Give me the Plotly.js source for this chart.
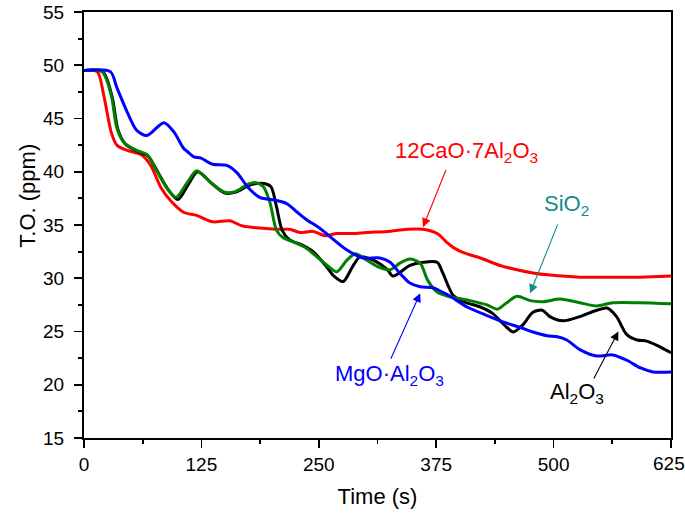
<!DOCTYPE html>
<html>
<head>
<meta charset="utf-8">
<script src="https://cdn.plot.ly/plotly-3.0.1.min.js"></script>
<style>html,body{margin:0;padding:0;background:#fff;}#chart{width:685px;height:514px;}</style>
</head>
<body>
<div id="chart"></div>
<script>
// Time (s) and T.O. (ppm) values
const caX = [0, 14, 21, 29, 35, 46, 61, 71, 82, 93, 106, 120, 137, 155, 169, 191, 209, 219, 230, 244, 257, 269, 286, 301, 323, 344, 361, 376, 386, 393, 404, 422, 443, 461, 478, 496, 528, 560, 592, 625];
const caY = [49.5, 49.4, 47.2, 43.7, 42.5, 42.0, 41.6, 40.6, 38.5, 37.2, 36.2, 35.9, 35.3, 35.4, 34.9, 34.7, 34.6, 34.6, 34.3, 34.4, 34.0, 34.2, 34.2, 34.3, 34.4, 34.6, 34.6, 34.2, 33.4, 32.9, 32.4, 31.9, 31.2, 30.8, 30.5, 30.3, 30.1, 30.1, 30.1, 30.2];

const siX = [0, 19, 29, 35, 43, 56, 67, 78, 88, 98, 110, 120, 135, 149, 160, 174, 182, 191, 198, 205, 212, 223, 237, 248, 259, 269, 280, 289, 301, 315, 326, 336, 347, 358, 366, 376, 388, 393, 411, 429, 440, 450, 461, 475, 489, 507, 528, 546, 563, 592, 625];
const siY = [49.5, 49.4, 47.2, 44.1, 42.7, 42.0, 41.6, 40.0, 38.5, 37.6, 39.0, 40.1, 39.0, 38.1, 38.1, 38.8, 39.0, 38.6, 37.1, 34.5, 33.8, 33.4, 32.8, 32.0, 31.2, 30.6, 31.7, 32.3, 31.7, 31.0, 30.8, 31.4, 31.8, 31.4, 29.8, 28.7, 28.3, 28.2, 27.9, 27.5, 27.1, 27.7, 28.3, 27.9, 27.8, 28.05, 27.7, 27.4, 27.7, 27.7, 27.6];

const alX = [0, 20, 30, 36, 44, 57, 68, 79, 89, 100, 111, 121, 136, 150, 162, 175, 184, 192, 199, 205, 211, 219, 233, 244, 259, 265, 276, 286, 294, 308, 323, 329, 347, 361, 376, 382, 393, 404, 422, 435, 450, 457, 467, 478, 488, 496, 510, 528, 546, 557, 567, 578, 589, 599, 610, 625];
const alY = [49.5, 49.4, 47.0, 44.0, 42.6, 41.9, 41.5, 39.9, 38.4, 37.4, 38.8, 40.0, 38.9, 38.0, 38.1, 38.7, 38.9, 38.9, 38.6, 36.7, 34.5, 33.6, 33.1, 32.5, 31.0, 30.3, 29.7, 31.1, 32.0, 31.7, 30.8, 30.2, 31.2, 31.5, 31.5, 30.5, 28.4, 27.8, 27.3, 26.7, 25.4, 24.95, 25.6, 26.8, 27.0, 26.4, 26.0, 26.4, 27.0, 27.2, 26.4, 24.7, 24.2, 24.1, 23.7, 23.0];

const mgX = [0, 28, 35, 46, 56, 67, 85, 96, 106, 110, 117, 124, 137, 152, 163, 174, 187, 205, 216, 227, 237, 251, 260, 280, 297, 315, 326, 336, 347, 358, 372, 388, 408, 429, 446, 464, 478, 493, 504, 514, 528, 546, 563, 578, 592, 606, 625];
const mgY = [49.5, 49.4, 47.9, 45.6, 43.9, 43.4, 44.6, 43.7, 42.2, 41.9, 41.4, 41.3, 40.7, 40.6, 39.9, 38.6, 37.6, 37.3, 37.0, 36.2, 35.5, 34.7, 34.05, 32.65, 31.9, 31.9, 31.5, 30.5, 29.55, 29.2, 29.1, 28.4, 27.3, 26.5, 25.9, 25.4, 24.95, 24.6, 24.5, 24.2, 23.3, 22.7, 22.8, 22.3, 21.6, 21.2, 21.2];

const xTicks = [0, 125, 250, 375, 500, 625];
const yTicks = [15, 20, 25, 30, 35, 40, 45, 50, 55];

const FONT = 'Liberation Sans, Arial, sans-serif';
function line(x, y, color, name) {
  return {x: x, y: y, type: 'scatter', mode: 'lines', name: name,
    line: {color: color, width: 3, shape: 'spline', smoothing: 0.8}, hoverinfo: 'skip'};
}
const data = [
  line(caX, caY, '#ff0000', '12CaO·7Al2O3'),
  line(alX, alY, '#000000', 'Al2O3'),
  line(siX, siY, '#007f00', 'SiO2'),
  line(mgX, mgY, '#0000ff', 'MgO·Al2O3')
];

function arrow(x, y, ax, ay, color) {
  return {x: x, y: y, ax: ax, ay: ay, xref: 'x', yref: 'y', axref: 'x', ayref: 'y',
    text: '', showarrow: true, arrowhead: 2, arrowsize: 1.6, arrowwidth: 1.1, arrowcolor: color, standoff: 0};
}
function label(x, y, text, color) {
  return {x: x, y: y, xref: 'x', yref: 'y', text: text, showarrow: false,
    font: {family: FONT, size: 22, color: color}};
}

// the last x tick label sits at the page edge; draw it as a right-anchored text so it is not cut
const lastX = xTicks[xTicks.length - 1];
const xTickText = xTicks.map((v, i) => i === xTicks.length - 1 ? '' : String(v));

const layout = {
  width: 685, height: 514,
  margin: {l: 84, r: 14, t: 12, b: 76},
  paper_bgcolor: '#fff', plot_bgcolor: '#fff',
  showlegend: false,
  font: {family: FONT, color: '#000'},
  xaxis: {
    range: [0, 625], tickvals: xTicks, ticktext: xTickText,
    ticks: 'outside', ticklen: 8, tickwidth: 1.8, tickcolor: '#000',
    minor: {tickvals: [62.5, 187.5, 312.5, 437.5, 562.5], ticks: 'outside', ticklen: 4, tickwidth: 1.8, tickcolor: '#000'},
    showline: true, linewidth: 2, linecolor: '#000', mirror: true,
    showgrid: false, zeroline: false,
    tickfont: {family: FONT, size: 19, color: '#000'},
    title: {text: 'Time (s)', font: {family: FONT, size: 22, color: '#000'}, standoff: 15}
  },
  yaxis: {
    range: [15, 55], tickvals: yTicks, ticktext: yTicks.map(String),
    ticks: 'outside', ticklen: 8, tickwidth: 1.8, tickcolor: '#000',
    minor: {dtick: 2.5, tick0: 15, ticks: 'outside', ticklen: 4, tickwidth: 1.8, tickcolor: '#000'},
    showline: true, linewidth: 2, linecolor: '#000', mirror: true,
    showgrid: false, zeroline: false, ticklabelstandoff: 6,
    tickfont: {family: FONT, size: 19, color: '#000'}
  },
  annotations: [
    {x: lastX, y: 0, xref: 'x', yref: 'paper', xanchor: 'right', yanchor: 'top', xshift: 15, yshift: -14,
     text: String(lastX), showarrow: false, borderpad: 0, font: {family: FONT, size: 19, color: '#000'}},
    {x: -0.121, y: 0.57, xref: 'paper', yref: 'paper', text: 'T.O. (ppm)', textangle: -90, showarrow: false,
     font: {family: FONT, size: 22, color: '#000'}},
    label(407, 41.85, '12CaO·7Al<sub>2</sub>O<sub>3</sub>', '#ff0000'),
    arrow(361, 34.8, 386, 40.3, '#ff0000'),
    label(514, 36.9, 'SiO<sub>2</sub>', '#138b8b'),
    arrow(475, 28.6, 505, 35.2, '#138b8b'),
    label(325, 20.9, 'MgO·Al<sub>2</sub>O<sub>3</sub>', '#0000ff'),
    arrow(358, 28.6, 326, 22.3, '#0000ff'),
    label(525, 19.2, 'Al<sub>2</sub>O<sub>3</sub>', '#000000'),
    arrow(569, 25.0, 542, 20.45, '#000000')
  ]
};

Plotly.newPlot('chart', data, layout, {staticPlot: true, displayModeBar: false});
</script>
</body>
</html>
